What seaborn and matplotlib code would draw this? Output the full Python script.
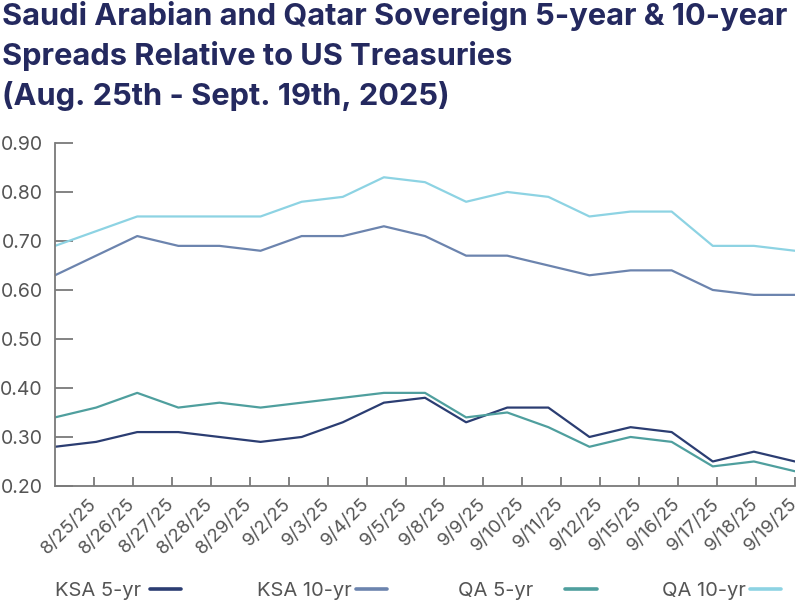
import numpy as np
import pandas as pd
import matplotlib
matplotlib.use("Agg")
import matplotlib.pyplot as plt
import seaborn as sns
from matplotlib.lines import Line2D

dates = ["8/25/25", "8/26/25", "8/27/25", "8/28/25", "8/29/25", "9/2/25", "9/3/25",
         "9/4/25", "9/5/25", "9/8/25", "9/9/25", "9/10/25", "9/11/25", "9/12/25",
         "9/15/25", "9/16/25", "9/17/25", "9/18/25", "9/19/25"]
ksa_5yr = [0.28, 0.29, 0.31, 0.31, 0.30, 0.29, 0.30, 0.33, 0.37, 0.38, 0.33, 0.36, 0.36,
           0.30, 0.32, 0.31, 0.25, 0.27, 0.25]
ksa_10yr = [0.63, 0.67, 0.71, 0.69, 0.69, 0.68, 0.71, 0.71, 0.73, 0.71, 0.67, 0.67, 0.65,
            0.63, 0.64, 0.64, 0.60, 0.59, 0.59]
qa_5yr = [0.34, 0.36, 0.39, 0.36, 0.37, 0.36, 0.37, 0.38, 0.39, 0.39, 0.34, 0.35, 0.32,
          0.28, 0.30, 0.29, 0.24, 0.25, 0.23]
qa_10yr = [0.69, 0.72, 0.75, 0.75, 0.75, 0.75, 0.78, 0.79, 0.83, 0.82, 0.78, 0.80, 0.79,
           0.75, 0.76, 0.76, 0.69, 0.69, 0.68]
series_names = ["KSA 5-yr", "KSA 10-yr", "QA 5-yr", "QA 10-yr"]
y_ticks = [0.20, 0.30, 0.40, 0.50, 0.60, 0.70, 0.80, 0.90]
title = ("Saudi Arabian and Qatar Sovereign 5-year & 10-year\n"
         "Spreads Relative to US Treasuries\n"
         "(Aug. 25th - Sept. 19th, 2025)")

colors = ["#2b3d72", "#6c84ae", "#4f9f9e", "#8dd3e3"]

sns.set_theme(style="white")
plt.rcParams["font.family"] = ["Inter", "DejaVu Sans"]

frames = []
for name, vals in zip(series_names, [ksa_5yr, ksa_10yr, qa_5yr, qa_10yr]):
    frames.append(pd.DataFrame({"idx": np.arange(len(dates)), "date": dates,
                                "value": vals, "series": name}))
df = pd.concat(frames, ignore_index=True)

fig = plt.figure(figsize=(8, 6.04), dpi=100)
ax = fig.add_axes([0.06875, 0.1954, 0.925, 0.5679])

sns.lineplot(data=df, x="idx", y="value", hue="series", hue_order=series_names,
             palette=colors, linewidth=1.6, ax=ax, legend=False)

n = len(dates)
ax.set_xlim(0, n - 1)
ax.set_ylim(0.20, 0.90)
ax.set_yticks(y_ticks)
ax.set_yticklabels([f"{v:.2f}" for v in y_ticks])
tick_pos = (np.arange(n) + 1) * (n - 1) / n
ax.set_xticks(tick_pos)
ax.set_xticklabels(dates, rotation=45, ha="right", rotation_mode="anchor", va="center")
ax.set_xlabel("")
ax.set_ylabel("")

for s in ["top", "right"]:
    ax.spines[s].set_visible(False)
for s in ["left", "bottom"]:
    ax.spines[s].set_color("#7a7a7a")
    ax.spines[s].set_linewidth(1.3)

ax.tick_params(axis="y", direction="in", length=13, width=1.3, color="#7a7a7a",
               labelsize=14, labelcolor="#555555", pad=9)
ax.tick_params(axis="x", direction="in", length=6.5, width=1.3, color="#7a7a7a",
               labelsize=13.5, labelcolor="#555555", pad=11)
ax.tick_params(axis="y", which="both", left=True)
ax.tick_params(axis="x", which="both", bottom=True)

fig.text(0.002, 0.998, title, ha="left", va="top", fontsize=22.2, fontweight="bold",
         color="#24295f", linespacing=1.42)

leg_x = [55, 257, 458, 662]
leg_pad = [0.45, 0.2, 1.6, 0.2]
for name, c, xpx, pad in zip(series_names, colors, leg_x, leg_pad):
    h = Line2D([0], [0], color=c, linewidth=2.6)
    leg = fig.legend([h], [name], loc="center left", bbox_to_anchor=(xpx / 800, 1 - 591 / 604),
                     frameon=False, markerfirst=False, fontsize=14.5,
                     handlelength=1.55, handletextpad=pad, borderpad=0, borderaxespad=0,
                     labelcolor="#555555")

fig.savefig("out.png", dpi=100)
